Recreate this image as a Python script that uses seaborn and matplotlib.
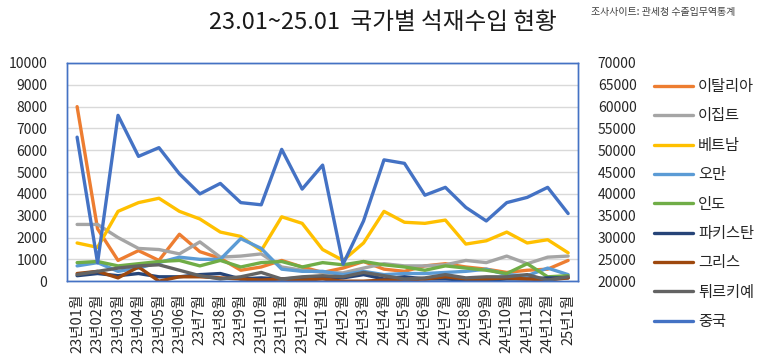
import matplotlib.pyplot as plt
import numpy as np
import pandas as pd
import seaborn as sns

# ------------------------------------------------------------------
# data
# ------------------------------------------------------------------
months = [
    "23년01월", "23년02월", "23년03월", "23년04월", "23년05월", "23년06월",
    "23년7월", "23년8월", "23년9월", "23년10월", "23년11월", "23년12월",
    "24년1월", "24년2월", "24년3월", "24년4월", "24년5월", "24년6월",
    "24년7월", "24년8월", "24년9월", "24년10월", "24년11월", "24년12월",
    "25년1월",
]

italy = [8000, 2400, 950, 1400, 950, 2150, 1350, 1050, 500, 650, 950, 650,
         400, 600, 900, 550, 450, 700, 800, 650, 550, 400, 500, 550, 950]
egypt = [2600, 2600, 2000, 1500, 1450, 1250, 1800, 1100, 1150, 1250, 650, 500,
         400, 380, 600, 800, 700, 700, 750, 950, 850, 1150, 800, 1100, 1150]
vietnam = [1750, 1550, 3200, 3600, 3800, 3200, 2850, 2250, 2050, 1400, 2950, 2650,
           1450, 950, 1750, 3200, 2700, 2650, 2800, 1700, 1850, 2250, 1750, 1900, 1300]
oman = [700, 850, 450, 600, 850, 1100, 1000, 1000, 1950, 1500, 550, 450,
        450, 300, 450, 300, 350, 350, 400, 450, 550, 300, 250, 600, 300]
india = [850, 900, 700, 800, 900, 950, 700, 950, 650, 850, 900, 650,
         850, 750, 900, 750, 650, 500, 700, 600, 500, 350, 800, 200, 250]
pakistan = [250, 350, 250, 350, 200, 200, 300, 350, 100, 150, 100, 150,
            200, 150, 300, 100, 200, 100, 100, 50, 50, 100, 100, 150, 150]
greece = [350, 450, 150, 650, 0, 200, 200, 150, 100, 50, 100, 50,
          100, 0, 0, 50, 50, 100, 200, 100, 100, 150, 100, 50, 150]
turkey = [300, 450, 600, 700, 750, 500, 250, 100, 200, 400, 100, 200,
          250, 200, 400, 250, 100, 150, 300, 150, 200, 200, 300, 50, 200]
china = [53000, 24200, 58000, 48600, 50600, 44600, 40000, 42400, 38000, 37500,
         50200, 41100, 46600, 23900, 33800, 47800, 47000, 39700, 41500, 36900,
         33800, 38000, 39200, 41500, 35500]

left_series = {
    "이탈리아": italy,
    "이집트": egypt,
    "베트남": vietnam,
    "오만": oman,
    "인도": india,
    "파키스탄": pakistan,
    "그리스": greece,
    "튀르키예": turkey,
}
palette = {
    "이탈리아": "#ED7D31",
    "이집트": "#A5A5A5",
    "베트남": "#FFC000",
    "오만": "#5B9BD5",
    "인도": "#70AD47",
    "파키스탄": "#264478",
    "그리스": "#9E480E",
    "튀르키예": "#636363",
    "중국": "#4472C4",
}

# long format table for seaborn
pos = np.arange(len(months))
df_left = pd.concat(
    [pd.DataFrame({"x": pos, "수입량": v, "국가": k}) for k, v in left_series.items()],
    ignore_index=True,
)
df_china = pd.DataFrame({"x": pos, "수입량": china, "국가": "중국"})

# ------------------------------------------------------------------
# plot
# ------------------------------------------------------------------
sns.set_theme(style="white")
plt.rcParams["font.family"] = ["Noto Sans CJK KR", "DejaVu Sans"]

fig = plt.figure(figsize=(7.6, 3.6), dpi=100)
ax = fig.add_axes([0.088, 0.219, 0.673, 0.606])
ax2 = ax.twinx()

lw = 2.4
sns.lineplot(data=df_left, x="x", y="수입량", hue="국가", palette=palette,
             linewidth=lw, ax=ax, sort=False)
sns.lineplot(data=df_china, x="x", y="수입량", hue="국가", palette=palette,
             linewidth=lw, ax=ax2, sort=False)

h1, l1 = ax.get_legend_handles_labels()
h2, l2 = ax2.get_legend_handles_labels()
ax.get_legend().remove()
ax2.get_legend().remove()

ax.set_ylim(0, 10000)
ax.set_yticks(range(0, 10001, 1000))
ax2.set_ylim(20000, 70000)
ax2.set_yticks(range(20000, 70001, 5000))
ax.set_xlim(-0.5, len(months) - 0.5)
ax.set_xticks(pos)
ax.set_xticklabels(months, rotation=90)

for a in (ax, ax2):
    a.set_xlabel("")
    a.set_ylabel("")
    a.tick_params(length=0, labelsize=10, colors="#262626")
    for sp in a.spines.values():
        sp.set_color("#4472C4")
        sp.set_linewidth(1.0)
ax.tick_params(axis="y", pad=14)
ax2.tick_params(axis="y", pad=14)
ax.tick_params(axis="x", pad=9, labelsize=10.5)

ax.grid(axis="y", color="#D9D9D9", linewidth=1.0)
ax.set_axisbelow(True)

fig.legend(h1 + h2, l1 + l2, loc="upper left", bbox_to_anchor=(0.852, 0.80),
           frameon=False, fontsize=11, handlelength=2.6, handletextpad=0.3,
           labelspacing=0.81, borderaxespad=0)

fig.text(0.504, 0.938, "23.01~25.01  국가별 석재수입 현황", ha="center", va="center",
         fontsize=17, color="#1a1a1a")
fig.text(0.968, 0.967, "조사사이트: 관세청 수출입무역통계", ha="right", va="center",
         fontsize=7.2, color="#404040")

fig.savefig("out.png", dpi=100)
